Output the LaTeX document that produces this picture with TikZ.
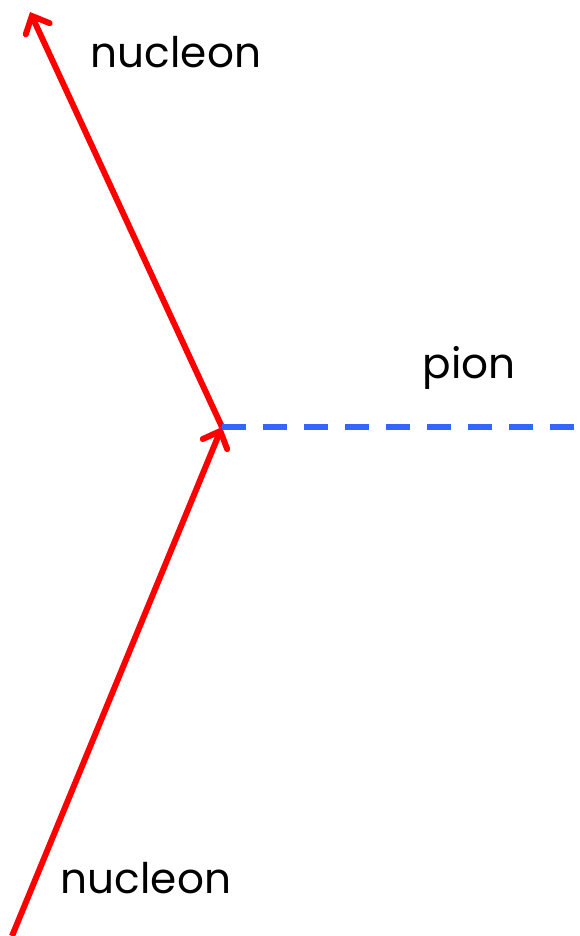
\documentclass[tikz,border=0pt]{standalone}
\usepackage{fontspec}
\setmainfont{Poppins}
\usetikzlibrary{arrows.meta}
\definecolor{pionblue}{RGB}{51,102,255}
\tikzset{
  fermion/.style={red,line width=3.4pt,-{Straight Barb[length=8pt,width=15pt,line cap=round]}},
  pionline/.style={pionblue,line width=3.4pt,dash pattern=on 0.48cm off 0.34cm},
  lbl/.style={font=\fontsize{24}{28}\selectfont,anchor=center}
}
\begin{document}
\begin{tikzpicture}[x=0.02cm,y=-0.02cm]
  \useasboundingbox (0,0) rectangle (579,936);
  \coordinate (in) at (12,936);
  \coordinate (vtx) at (222,427);
  \coordinate (out) at (30,12);
  \coordinate (pend) at (579,427);
  \draw[fermion] (in) -- (vtx);
  \draw[fermion] (vtx) -- (out);
  \draw[pionline] (vtx) -- (pend);
  \node[lbl] (ntop) at (176,52) {nucleon};
  \node[lbl] (pion) at (469,368) {pion};
  \node[lbl] (nbot) at (146,878) {nucleon};
\end{tikzpicture}
\end{document}
